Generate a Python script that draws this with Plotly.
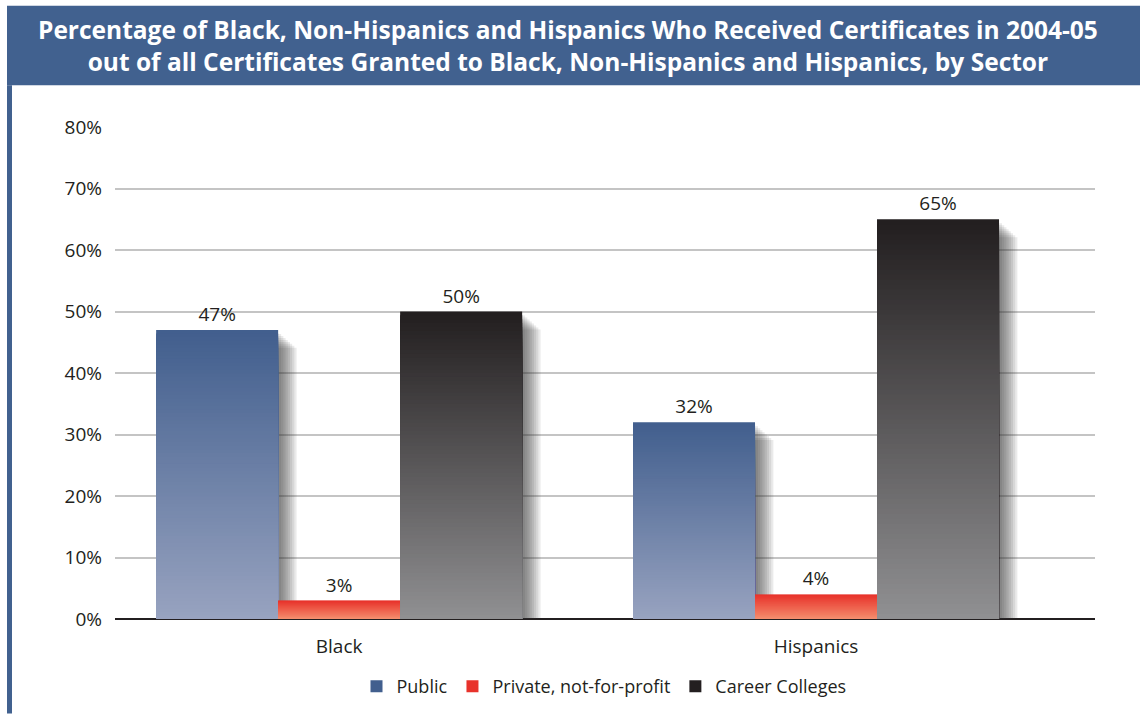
import plotly.graph_objects as go

# Data
groups = ["Black", "Hispanics"]
sectors = ["Public", "Private, not-for-profit", "Career Colleges"]
public = [47, 32]
private = [3, 4]
career = [50, 65]
y_ticks = [0, 10, 20, 30, 40, 50, 60, 70, 80]
y_tick_labels = [f"{v}%" for v in y_ticks]

series = [public, private, career]
# (top colour, bottom colour) of each bar's vertical gradient
grad = [((0x42, 0x5f, 0x8e), (0x98, 0xa3, 0xc0)),
        ((0xe8, 0x32, 0x2b), (0xf5, 0x8e, 0x6e)),
        ((0x23, 0x1f, 0x20), (0x90, 0x90, 0x92))]

# Geometry
W, H = 1140, 717
ML, MR, MT, MB = 115, 45, 127, 95
PW, PH = W - ML - MR, H - MT - MB
X_RANGE = [-0.47, 1.585]
px_x = PW / (X_RANGE[1] - X_RANGE[0])      # pixels per category unit
px_y = PH / 80.0                            # pixels per percent
BW = 122 / px_x                             # bar width in category units
offsets = [-1.5 * BW, -0.5 * BW, 0.5 * BW]

xs = list(range(len(groups)))
fig = go.Figure()

# soft drop shadows
for s, vals in enumerate(series):
    for j in range(8):
        dx = (3 + 2.2 * j) / px_x
        dy = (4 + 2.0 * j) / px_y
        fig.add_bar(
            x=xs, y=[v for v in vals], base=[-dy] * len(vals),
            width=BW, offset=offsets[s] + dx,
            marker=dict(color="rgba(50,50,50,0.10)", line=dict(width=0)),
            showlegend=False, hoverinfo="skip",
        )

# gradient bars: stacked overlays, tallest (darkest) first
N = 80
for s, vals in enumerate(series):
    (r0, g0, b0), (r1, g1, b1) = grad[s]
    for i in range(N):
        t = i / (N - 1)
        col = "rgb(%d,%d,%d)" % (r0 + (r1 - r0) * t, g0 + (g1 - g0) * t, b0 + (b1 - b0) * t)
        first = i == 0
        fig.add_bar(
            x=xs, y=[v * (N - i) / N for v in vals],
            width=BW, offset=offsets[s],
            marker=dict(color=col, line=dict(width=0)),
            name=sectors[s], legendgroup=sectors[s], showlegend=first,
            text=[f"{v}%" for v in vals] if first else None,
            textposition="outside" if first else None,
            textfont=dict(size=19, color="#231f20", family="Open Sans"),
            cliponaxis=False,
            hoverinfo="skip" if not first else None,
        )

# title band and left border
fig.add_shape(type="rect", xref="paper", yref="paper",
              x0=(7 - ML) / PW, x1=(1140 - ML) / PW,
              y0=(H - MB - 85) / PH, y1=(H - MB - 5) / PH,
              fillcolor="#41618f", line_width=0, layer="below")
fig.add_shape(type="rect", xref="paper", yref="paper",
              x0=(7 - ML) / PW, x1=(12 - ML) / PW,
              y0=(H - MB - 717) / PH, y1=(H - MB - 85) / PH,
              fillcolor="#41618f", line_width=0, layer="below")
fig.add_annotation(
    xref="paper", yref="paper", x=(568 - ML) / PW, y=(H - MB - 45) / PH,
    text="Percentage of Black, Non-Hispanics and Hispanics Who Received Certificates in 2004-05<br>"
         "out of all Certificates Granted to Black, Non-Hispanics and Hispanics, by Sector",
    showarrow=False, align="center", xanchor="center", yanchor="middle",
    font=dict(family="Open Sans", size=24.5, color="white", weight="bold"),
)

fig.update_layout(
    width=W, height=H, barmode="overlay",
    margin=dict(l=ML, r=MR, t=MT, b=MB),
    paper_bgcolor="white", plot_bgcolor="white",
    font=dict(family="Open Sans", color="#231f20"),
    legend=dict(orientation="h", x=(604 - ML) / PW, xanchor="center",
                y=(H - MB - 690) / PH, yanchor="middle",
                font=dict(size=18, color="#231f20"), traceorder="normal",
                itemwidth=30),
    xaxis=dict(range=X_RANGE, tickvals=xs, ticktext=groups, showgrid=False,
               showline=False, zeroline=False, ticks="", ticklabelstandoff=14,
               tickfont=dict(size=19, color="#231f20")),
    yaxis=dict(range=[0, 80], tickvals=y_ticks, ticktext=y_tick_labels,
               showgrid=True, gridcolor="#c4c4c4", gridwidth=1.5,
               zeroline=True, zerolinecolor="#231f20", zerolinewidth=2,
               showline=False, ticks="", ticklabelstandoff=12,
               tickfont=dict(size=19, color="#231f20")),
)

fig.write_html("out.html")
